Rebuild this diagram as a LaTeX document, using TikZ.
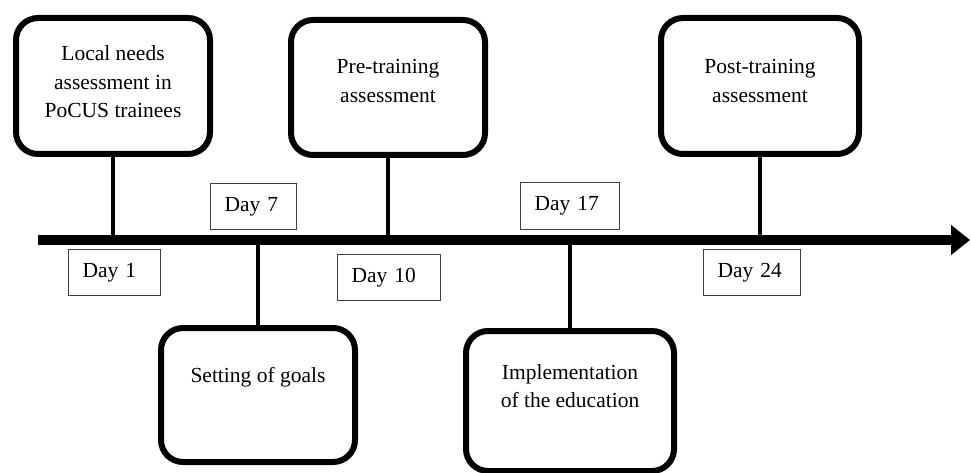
\documentclass[tikz,border=0pt]{standalone}
\usepackage{fontspec}
\setmainfont{Liberation Serif}
\usetikzlibrary{arrows.meta}
\usetikzlibrary{positioning}
\tikzstyle{stage_box} = [
    rectangle, 
    rounded corners=22pt, 
    draw=black, 
    line width=6pt, 
    fill=white, 
    minimum width=194pt, % outer width minus the stroke
    minimum height=136pt
]
\tikzstyle{stage_text} = [
    align=center, 
    inner sep=0pt, 
    font=\fontsize{21.5}{28.5}\selectfont
]
\tikzstyle{day_box} = [
    rectangle, 
    draw=black!75, 
    fill=white, 
    line width=1pt, 
    align=left, 
    inner xsep=14pt, 
    minimum height=46pt, 
    font=\fontsize{21.5}{26}\selectfont
]
\tikzstyle{tick_line} = [
    draw=black, 
    line width=4pt
]

\begin{document}
\begin{tikzpicture}[x=1pt, y=-1pt]
\useasboundingbox (0,0) rectangle (971,473);

% time axis
\coordinate (axis_start) at (38,240);
\coordinate (axis_end) at (970,240);
\draw [line width=10pt, -{Triangle[length=19pt, width=29pt]}] (axis_start) -- (axis_end);

% stages above the axis
\node [stage_box] (needs) at (113,86) {};
\node [stage_box, minimum height=135pt] (pre) at (388,87.5) {};
\node [stage_box, minimum width=198pt] (post) at (760,86) {};

% stages below the axis
\node [stage_box, minimum height=134pt] (goals) at (258,395) {};
\node [stage_box, minimum width=208pt, minimum height=140pt] (impl) at (570,401) {};

\draw [tick_line] (needs.south) -- (needs.south |- axis_start);
\draw [tick_line] (pre.south) -- (pre.south |- axis_start);
\draw [tick_line] (post.south) -- (post.south |- axis_start);
\draw [tick_line] (goals.north) -- (goals.north |- axis_start);
\draw [tick_line] (impl.north) -- (impl.north |- axis_start);

\node [stage_text] (needs_text) at ([yshift=-67pt]needs.north) {Local needs\\assessment in\\PoCUS trainees};
\node [stage_text] (pre_text) at ([yshift=-64pt]pre.north) {Pre-training\\assessment};
\node [stage_text] (post_text) at ([yshift=-66pt]post.north) {Post-training\\assessment};
\node [stage_text] (goals_text) at ([yshift=-52pt]goals.north) {Setting of goals};
\node [stage_text] (impl_text) at ([yshift=-58pt]impl.north) {Implementation\\of the education};

% day markers
\node [day_box, text width=64pt] (day1) at (114.5,272.5) {Day 1};
\node [day_box, text width=58pt] (day7) at (253.5,206.5) {Day 7};
\node [day_box, text width=75pt] (day10) at (389,277.5) {Day 10};
\node [day_box, text width=71pt] (day17) at (570,206) {Day 17};
\node [day_box, text width=69pt] (day24) at (752,272.5) {Day 24};
\end{tikzpicture}
\end{document}
